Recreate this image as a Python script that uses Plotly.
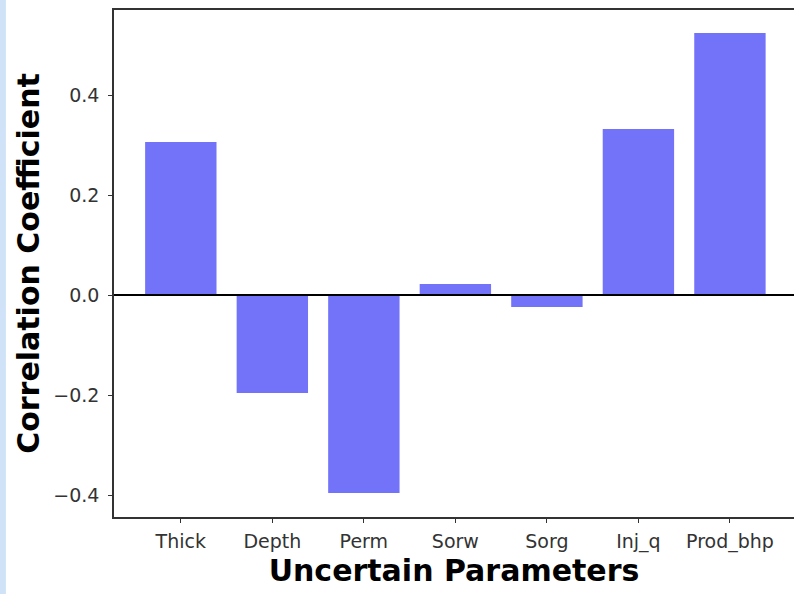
import plotly.graph_objects as go

categories = ["Thick", "Depth", "Perm", "Sorw", "Sorg", "Inj_q", "Prod_bhp"]
values = [0.306, -0.196, -0.396, 0.022, -0.024, 0.332, 0.524]
y_ticks = [-0.4, -0.2, 0.0, 0.2, 0.4]

fig = go.Figure()
fig.add_trace(go.Bar(
    x=list(range(len(categories))), y=values, width=0.78,
    marker=dict(color="#7373fa", line=dict(width=0)),
))

fig.add_hline(y=0, line=dict(color="black", width=2))

fig.add_shape(type="rect", xref="paper", yref="paper",
              x0=-0.2, x1=-0.159, y0=-0.2, y1=1.05,
              fillcolor="#cfe2f8", line=dict(width=0), layer="below")

fig.update_layout(
    width=794, height=594,
    margin=dict(l=114, r=0, t=10, b=77),
    paper_bgcolor="white", plot_bgcolor="white",
    showlegend=False,
    font=dict(family="DejaVu Sans", color="#333333", size=19),
    xaxis=dict(
        range=[-0.73, 6.70],
        tickvals=list(range(len(categories))), ticktext=categories,
        showline=True, linecolor="#333333", linewidth=1.5, mirror=True,
        ticks="outside", ticklen=4, tickcolor="#333333",
        ticklabelstandoff=2,
        showgrid=False, zeroline=False,
        title=dict(text="<b>Uncertain Parameters</b>",
                   font=dict(size=30, color="black", family="DejaVu Sans"),
                   standoff=8),
    ),
    yaxis=dict(
        range=[-0.444, 0.57],
        tickvals=y_ticks, tickformat=".1f",
        showline=True, linecolor="#333333", linewidth=1.5, mirror=False,
        ticks="outside", ticklen=4, tickcolor="#333333",
        ticklabelstandoff=5,
        showgrid=False, zeroline=False,
        title=dict(text="<b>Correlation Coefficient</b>",
                   font=dict(size=30, color="black", family="DejaVu Sans"),
                   standoff=5),
    ),
)

fig.write_html("out.html", config={"displayModeBar": False},
               post_script="document.body.style.margin='0';")
